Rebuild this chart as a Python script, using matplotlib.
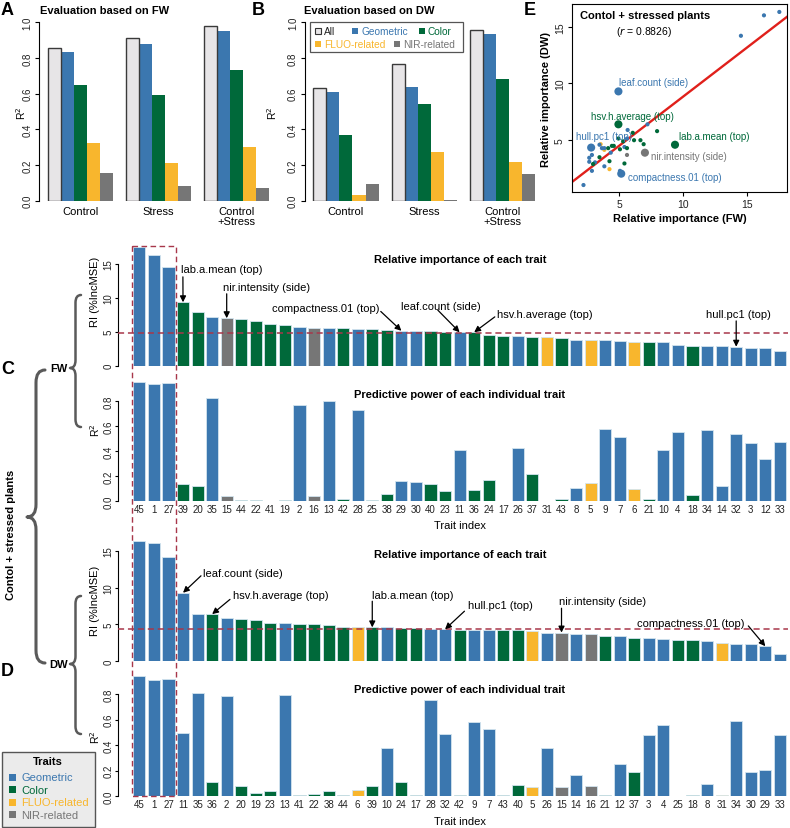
import numpy as np
import matplotlib
matplotlib.use('Agg')
import matplotlib.pyplot as plt
from matplotlib.patches import Rectangle, PathPatch
from matplotlib.path import Path

plt.rcParams['font.family'] = ['Liberation Sans', 'DejaVu Sans']

W, H = 790, 829

# ── trait categories ─────────────────────────────────────────────────────────
CATS = ['Geometric', 'Color', 'FLUO-related', 'NIR-related']
CAT_COLORS = {'Geometric': '#3b77af', 'Color': '#00693a',
              'FLUO-related': '#f8b62d', 'NIR-related': '#767676'}
ALL_FILL = '#e7e5e7'

geometric_traits = [1, 2, 3, 4, 7, 8, 9, 10, 11, 12, 13, 14, 26, 27, 28, 29,
                    30, 32, 33, 34, 35, 45]
color_traits = [17, 18, 19, 20, 21, 22, 23, 24, 25, 36, 37, 38, 39, 40, 41,
                42, 43, 44]
fluo_traits = [5, 6, 31]
nir_traits = [15, 16]

# ── panels A / B: R2 of models built on trait subsets ────────────────────────
groups = ['Control', 'Stress', 'Control\n+Stress']
subsets = ['All', 'Geometric', 'Color', 'FLUO-related', 'NIR-related']
r2_fw = np.array([[0.854, 0.836, 0.649, 0.323, 0.153],
                  [0.914, 0.879, 0.593, 0.211, 0.084],
                  [0.979, 0.953, 0.733, 0.301, 0.069]])
r2_dw = np.array([[0.630, 0.611, 0.368, 0.032, 0.092],
                  [0.768, 0.636, 0.544, 0.271, 0.005],
                  [0.959, 0.936, 0.680, 0.215, 0.147]])

# ── panel C: FW, traits sorted by relative importance ────────────────────────
fw_order = [45, 1, 27, 39, 20, 35, 15, 44, 22, 41, 19, 2, 16, 13, 42, 28, 25,
            38, 29, 30, 40, 23, 11, 36, 24, 17, 26, 37, 31, 43, 8, 5, 9, 7, 6,
            21, 10, 4, 18, 34, 14, 32, 3, 12, 33]
fw_ri = [17.5, 16.3, 14.5, 9.35, 7.95, 7.2, 7.0, 6.9, 6.65, 6.15, 6.05, 5.65,
         5.6, 5.6, 5.6, 5.4, 5.4, 5.3, 5.15, 5.05, 5.05, 4.93, 4.93, 4.93,
         4.57, 4.42, 4.33, 4.23, 4.23, 4.13, 3.83, 3.83, 3.83, 3.64, 3.54,
         3.45, 3.45, 3.1, 2.95, 2.86, 2.86, 2.8, 2.65, 2.65, 2.2]
fw_r2 = [0.957, 0.938, 0.949, 0.141, 0.122, 0.824, 0.040, 0.010, 0.010, 0.002,
         0.012, 0.773, 0.040, 0.805, 0.018, 0.728, 0.008, 0.062, 0.160, 0.155,
         0.135, 0.080, 0.413, 0.093, 0.170, 0.005, 0.424, 0.216, 0.003, 0.016,
         0.104, 0.147, 0.576, 0.512, 0.101, 0.016, 0.410, 0.552, 0.048, 0.571,
         0.125, 0.536, 0.467, 0.336, 0.472]
fw_cutoff = 4.82

# ── panel D: DW ───────────────────────────────────────────────────────────────
dw_order = [45, 1, 27, 11, 35, 36, 2, 20, 19, 23, 13, 41, 22, 38, 44, 6, 39,
            10, 24, 17, 28, 32, 42, 9, 7, 43, 40, 5, 26, 15, 14, 16, 21, 12,
            37, 3, 4, 25, 18, 8, 31, 34, 30, 29, 33]
dw_ri = [16.3, 16.0, 14.2, 9.3, 6.4, 6.4, 5.9, 5.8, 5.65, 5.15, 5.15, 5.0,
         5.0, 4.9, 4.65, 4.65, 4.6, 4.6, 4.5, 4.5, 4.4, 4.35, 4.3, 4.3, 4.3,
         4.3, 4.2, 4.15, 3.9, 3.9, 3.7, 3.7, 3.5, 3.45, 3.15, 3.1, 3.05, 2.95,
         2.9, 2.7, 2.45, 2.3, 2.3, 2.05, 1.05]
dw_r2 = [0.937, 0.909, 0.920, 0.494, 0.810, 0.109, 0.786, 0.080, 0.023, 0.039,
         0.790, 0.010, 0.018, 0.039, 0.010, 0.050, 0.083, 0.375, 0.112, 0.010,
         0.755, 0.490, 0.010, 0.578, 0.523, 0.008, 0.090, 0.075, 0.375, 0.070,
         0.167, 0.080, 0.013, 0.253, 0.188, 0.482, 0.560, 0.003, 0.008, 0.099,
         0.010, 0.589, 0.193, 0.203, 0.477]
dw_cutoff = 4.34

highlight = {39: 'lab.a.mean (top)', 15: 'nir.intensity (side)',
             29: 'compactness.01 (top)', 11: 'leaf.count (side)',
             36: 'hsv.h.average (top)', 32: 'hull.pc1 (top)'}


def category(t):
    if t in geometric_traits:
        return 'Geometric'
    if t in color_traits:
        return 'Color'
    if t in fluo_traits:
        return 'FLUO-related'
    return 'NIR-related'


fig = plt.figure(figsize=(W / 100, H / 100), dpi=100)


def px_axes(left, top, right, bottom, **kw):
    return fig.add_axes([left / W, 1 - bottom / H, (right - left) / W,
                         (bottom - top) / H], **kw)


TICK_C = '#222222'
fs_tick = 7


# ── A / B grouped bars ───────────────────────────────────────────────────────
def group_panel(rect, data, xlo):
    ax = px_axes(*rect)
    for g in range(len(groups)):
        for k, s in enumerate(subsets):
            x = g * 6 + k
            if s == 'All':
                ax.bar(x, data[g, k], width=1, align='edge', color=ALL_FILL,
                       edgecolor='#3a3a3a', linewidth=1.0, zorder=3)
            else:
                ax.bar(x, data[g, k], width=1, align='edge',
                       color=CAT_COLORS[s], linewidth=0, zorder=2)
    ax.set_xlim(xlo, 17.3)
    ax.set_ylim(0, 1)
    for sp in ['top', 'right', 'bottom']:
        ax.spines[sp].set_visible(False)
    ax.spines['left'].set_bounds(0, 1)
    ax.spines['left'].set_linewidth(0.8)
    ax.set_yticks(np.arange(0, 1.01, 0.2))
    ax.set_yticklabels([f'{v:.1f}' for v in np.arange(0, 1.01, 0.2)],
                       rotation=90, va='center', fontsize=fs_tick, color=TICK_C)
    ax.tick_params(axis='y', length=3, width=0.8, pad=2)
    ax.set_xticks([g * 6 + 2.5 for g in range(len(groups))])
    ax.set_xticklabels(groups, fontsize=8, linespacing=1.1)
    ax.tick_params(axis='x', length=0, pad=3.5)
    return ax


axA = group_panel((39.3, 23.3, 273, 201.7), r2_fw, -0.69)
axB = group_panel((305, 23.3, 539, 201.7), r2_dw, -0.64)

# ── C / D sorted bar panels ──────────────────────────────────────────────────
XL, XR = -1.06, 54.17
BAR_L, BAR_R = 118, 788
x_bar = 0.7 + 1.2 * np.arange(len(fw_order))


def bar_panel(rect, order, values, ytop, yticks, ylabels, xlabels=False):
    ax = px_axes(*rect)
    cols = [CAT_COLORS[category(t)] for t in order]
    ax.bar(x_bar, values, width=1, color=cols, edgecolor='#d3e5ef',
           linewidth=0.6, zorder=2)
    ax.set_xlim(XL, XR)
    ax.set_ylim(0, ytop)
    for sp in ['top', 'right', 'bottom']:
        ax.spines[sp].set_visible(False)
    ax.spines['left'].set_bounds(yticks[0], yticks[-1])
    ax.spines['left'].set_linewidth(0.8)
    ax.set_yticks(yticks)
    ax.set_yticklabels(ylabels, rotation=90, va='center', fontsize=fs_tick,
                       color=TICK_C)
    ax.tick_params(axis='y', length=2.5, width=0.8, pad=1)
    if xlabels:
        ax.set_xticks(x_bar)
        ax.set_xticklabels([str(t) for t in order], fontsize=fs_tick,
                           color=TICK_C)
        ax.tick_params(axis='x', length=0, pad=2)
    else:
        ax.set_xticks([])
    return ax


ri_ticks = [0, 5, 10, 15]
r2_ticks = [0, 0.2, 0.4, 0.6, 0.8]
r2_lab = ['0.0', '0.2', '0.4', '0.6', '0.8']

axC1 = bar_panel((BAR_L, 247, BAR_R, 366.7), fw_order, fw_ri, 17.65,
                 ri_ticks, [str(v) for v in ri_ticks])
axC2 = bar_panel((BAR_L, 382, BAR_R, 502.3), fw_order, fw_r2, 0.962,
                 r2_ticks, r2_lab, xlabels=True)
axD1 = bar_panel((BAR_L, 541, BAR_R, 662.3), dw_order, dw_ri, 16.46,
                 ri_ticks, [str(v) for v in ri_ticks])
axD2 = bar_panel((BAR_L, 677, BAR_R, 797.3), dw_order, dw_r2, 0.94,
                 r2_ticks, r2_lab, xlabels=True)

DASH_RED = '#a8374a'
for ax, cut in [(axC1, fw_cutoff), (axD1, dw_cutoff)]:
    ax.axhline(cut, color=DASH_RED, lw=1.1, ls=(0, (4, 2.5)), zorder=4)

# arrows + labels: trait -> (text x, text y, arrow start x, arrow start y)
fw_notes = {39: (4.13, 14.26, 4.29, 13.1), 15: (7.57, 11.56, 7.9, 10.6),
            29: (11.6, 8.5, 20.6, 8.0), 11: (22.27, 8.85, 25.3, 8.2),
            36: (30.2, 7.6, 30.0, 7.2), 32: (47.4, 7.6, 49.9, 6.6)}
dw_notes = {11: (5.92, 12.0, 5.78, 11.6), 36: (8.39, 9.0, 8.17, 8.4),
            39: (19.85, 9.0, 19.9, 8.15), 32: (27.77, 7.64, 27.5, 6.8),
            15: (35.3, 8.22, 35.5, 7.2), 29: (41.7, 5.16, 50.9, 4.8)}


def annotate_bars(ax, order, values, notes):
    for t, (tx, ty, sx, sy) in notes.items():
        i = order.index(t)
        ax.text(tx, ty, highlight[t], fontsize=8, ha='left', va='center',
                clip_on=False, zorder=6)
        ax.annotate('', xy=(x_bar[i], values[i]), xytext=(sx, sy),
                    arrowprops=dict(arrowstyle='-|>', color='black', lw=0.9,
                                    mutation_scale=9, shrinkA=0, shrinkB=0),
                    annotation_clip=False, zorder=6)


annotate_bars(axC1, fw_order, fw_ri, fw_notes)
annotate_bars(axD1, dw_order, dw_ri, dw_notes)

# ── E: scatter of relative importance ───────────────────────────────────────
fw_map = dict(zip(fw_order, fw_ri))
dw_map = dict(zip(dw_order, dw_ri))
traits = sorted(fw_map)
ex = np.array([fw_map[t] for t in traits])
ey = np.array([dw_map[t] for t in traits])
ecol = [CAT_COLORS[category(t)] for t in traits]
esize = [34 if t in highlight else 9 for t in traits]

axE = px_axes(571.7, 5, 787, 193.3)
slope, icpt = np.polyfit(ex, ey, 1)
xx = np.array([0, 20])
axE.plot(xx, slope * xx + icpt, color='#e0201b', lw=1.7, zorder=2)
axE.scatter(ex, ey, s=esize, c=ecol, linewidths=0, zorder=3)
axE.set_xlim(1.28, 18.1)
axE.set_ylim(0.41, 17.0)
axE.set_xticks([5, 10, 15])
axE.set_yticks([5, 10, 15])
axE.set_xticklabels(['5', '10', '15'], fontsize=7.5, color=TICK_C)
axE.set_yticklabels(['5', '10', '15'], fontsize=7.5, color=TICK_C,
                    rotation=90, va='center')
axE.tick_params(length=3, width=0.8, pad=2)
for sp in axE.spines.values():
    sp.set_linewidth(0.8)
axE.set_xlabel('Relative importance (FW)', fontsize=8, fontweight='bold',
               labelpad=3)
axE.set_ylabel('Relative importance (DW)', fontsize=8, fontweight='bold',
               labelpad=3)
axE.text(0.04, 0.94, 'Contol + stressed plants', transform=axE.transAxes,
         fontsize=8, fontweight='bold', ha='left', va='center')
axE.text(0.205, 0.855, r'($\it{r}$ = 0.8826)', transform=axE.transAxes,
         fontsize=7.5, ha='left', va='center')
e_notes = {11: (5.0, 10.1), 36: (2.75, 7.17), 32: (1.6, 5.4),
           39: (9.65, 5.4), 15: (7.45, 3.65), 29: (5.7, 1.73)}
for t, (tx, ty) in e_notes.items():
    axE.text(tx, ty, highlight[t], fontsize=7, color=CAT_COLORS[category(t)],
             ha='left', va='center', zorder=4)

# ── overlay in pixel coordinates for decorations ─────────────────────────────
ov = fig.add_axes([0, 0, 1, 1], zorder=10)
ov.set_xlim(0, W)
ov.set_ylim(H, 0)
ov.axis('off')
ov.patch.set_alpha(0)

# panel letters
for lab, (x, y) in {'A': (1, 10), 'B': (252, 10), 'E': (524, 10),
                    'C': (1, 369), 'D': (1, 671)}.items():
    ov.text(x, y, lab, fontsize=13, fontweight='bold', ha='left', va='center')

ov.text(40, 11, 'Evaluation based on FW', fontsize=8, fontweight='bold',
        ha='left', va='center')
ov.text(304, 11, 'Evaluation based on DW', fontsize=8, fontweight='bold',
        ha='left', va='center')
ov.text(21, 113, 'R$^2$', fontsize=7.5, rotation=90, ha='center', va='center')
ov.text(272, 113, 'R$^2$', fontsize=7.5, rotation=90, ha='center', va='center')

# legend in B
ov.add_patch(Rectangle((310, 22.7), 152.7, 30.6, facecolor='white',
                       edgecolor='#555555', lw=0.9))
leg_items = [('All', 318.3, 32.3), ('Geometric', 355, 32.3),
             ('Color', 421.7, 32.3), ('FLUO-related', 318.3, 45.3),
             ('NIR-related', 396.7, 45.3)]
for name, x, y in leg_items:
    if name == 'All':
        ov.add_patch(Rectangle((x - 3, y - 3), 6, 6, facecolor=ALL_FILL,
                               edgecolor='#333333', lw=0.8))
        tc = '#222222'
    else:
        ov.add_patch(Rectangle((x - 3, y - 3), 6, 6,
                               facecolor=CAT_COLORS[name], lw=0))
        tc = CAT_COLORS[name]
    ov.text(x + 6, y, name, fontsize=7.3, color=tc, ha='left', va='center')

# panel titles for C / D
for y in (260, 555):
    ov.text(460, y, 'Relative importance of each trait', fontsize=8,
            fontweight='bold', ha='center', va='center')
for y in (395, 690):
    ov.text(460, y, 'Predictive power of each individual trait', fontsize=8,
            fontweight='bold', ha='center', va='center')
for y in (526, 822):
    ov.text(460, y, 'Trait index', fontsize=8, ha='center', va='center')

# y labels
ov.text(95, 292, 'RI (%IncMSE)', fontsize=8, rotation=90, ha='center', va='center')
ov.text(95, 430, 'R$^2$', fontsize=7.5, rotation=90, ha='center', va='center')
ov.text(95, 601, 'RI (%IncMSE)', fontsize=8, rotation=90, ha='center', va='center')
ov.text(95, 737, 'R$^2$', fontsize=7.5, rotation=90, ha='center', va='center')

# highlight box around top three traits
px_per = (BAR_R - BAR_L) / (XR - XL)
bx0 = BAR_L + (0.2 - XL) * px_per - 1.2
bx1 = BAR_L + (3.6 - XL) * px_per + 1.2
ov.add_patch(Rectangle((bx0, 247), bx1 - bx0, 797.3 - 247, fill=False,
                       edgecolor=DASH_RED, lw=1.0, ls=(0, (4, 2.5))))


def brace(x_end, y_top, y_bot, y_tip, w, lw):
    xm = x_end - w / 2
    xt = x_end - w
    r = w * 0.7
    verts = [(x_end, y_top), (xm, y_top), (xm, y_top + r),
             (xm, y_tip - r), (xm, y_tip), (xt, y_tip),
             (xm, y_tip), (xm, y_tip + r),
             (xm, y_bot - r), (xm, y_bot), (x_end, y_bot)]
    codes = [Path.MOVETO, Path.CURVE3, Path.CURVE3, Path.LINETO,
             Path.CURVE3, Path.CURVE3, Path.CURVE3, Path.CURVE3,
             Path.LINETO, Path.CURVE3, Path.CURVE3]
    ov.add_patch(PathPatch(Path(verts, codes), fill=False, edgecolor='#5a5a5a',
                           lw=lw, capstyle='round', joinstyle='round'))


brace(45, 371, 664, 518, 18, 2.2)
brace(81, 296, 428, 369, 11, 1.8)
brace(81, 597, 735, 665, 11, 1.8)

ov.text(50, 369, 'FW', fontsize=8, fontweight='bold', ha='left', va='center')
ov.text(49, 665, 'DW', fontsize=8, fontweight='bold', ha='left', va='center')
ov.text(11, 535, 'Contol + stressed plants', fontsize=8, fontweight='bold',
        rotation=90, ha='center', va='center')

# Traits legend
ov.add_patch(Rectangle((1.7, 752.7), 93.3, 75.6, facecolor='#ebebeb',
                       edgecolor='#555555', lw=1.0))
ov.text(48, 762, 'Traits', fontsize=8, fontweight='bold', ha='center',
        va='center')
for name, y in zip(CATS, [778, 790.7, 803.3, 815.7]):
    ov.add_patch(Rectangle((8.5, y - 3.5), 7, 7, facecolor=CAT_COLORS[name],
                           lw=0))
    ov.text(21.5, y, name, fontsize=8, color=CAT_COLORS[name], ha='left',
            va='center')

fig.savefig('out.png', dpi=100)
